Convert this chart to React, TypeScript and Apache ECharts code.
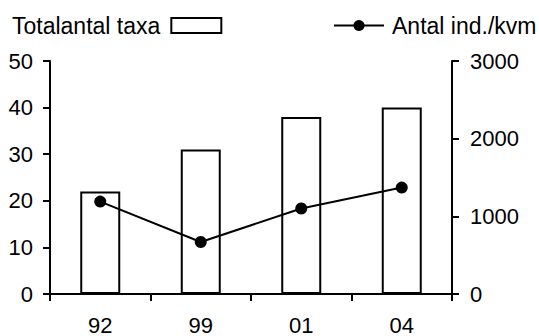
import React, { useEffect, useRef } from "react";
import * as echarts from "echarts";

const categories = ["92", "99", "01", "04"];
const taxaValues = [22, 31, 38, 40];
const densityValues = [1190, 670, 1100, 1370];
const leftTicks = { min: 0, max: 50, interval: 10 };
const rightTicks = { min: 0, max: 3000, interval: 1000 };

const FONT = "'Liberation Sans', Arial, sans-serif";
const FS = 22;

export default function App() {
  const ref = useRef<HTMLDivElement>(null);
  useEffect(() => {
    if (!ref.current) return;
    const chart = echarts.init(ref.current, undefined, { renderer: "svg" });
    const axisLine = { show: true, lineStyle: { color: "#000", width: 2 } };
    const axisTick = { show: true, inside: false, length: 7, lineStyle: { color: "#000", width: 2 } };
    chart.setOption({
      animation: false,
      backgroundColor: "#fff",
      textStyle: { fontFamily: FONT, color: "#000" },
      legend: [
        {
          data: [{ name: "Totalantal taxa", icon: "rect" }],
          left: 12,
          top: 14,
          padding: 0,
          align: "right",
          itemWidth: 50,
          itemHeight: 15,
          itemGap: 0,
          textStyle: { fontSize: FS + 1, color: "#000", fontFamily: FONT, padding: [0, 6, 0, 0] },
        },
        {
          data: ["Antal ind./kvm"],
          left: 333,
          top: 14,
          padding: 0,
          itemWidth: 50,
          itemHeight: 14,
          textStyle: { fontSize: FS + 1, color: "#000", fontFamily: FONT, padding: [0, 0, 0, 3] },
        },
      ],
      grid: { left: 50, right: 87, top: 61, bottom: 41, containLabel: false },
      xAxis: {
        type: "category",
        data: categories,
        boundaryGap: true,
        axisLine,
        axisTick: { ...axisTick, alignWithLabel: false },
        axisLabel: { fontSize: FS, color: "#000", fontFamily: FONT, margin: 20 },
        splitLine: { show: false },
      },
      yAxis: [
        {
          type: "value",
          position: "left",
          ...leftTicks,
          axisLine,
          axisTick,
          axisLabel: { fontSize: FS, color: "#000", fontFamily: FONT, margin: 17 },
          splitLine: { show: false },
        },
        {
          type: "value",
          position: "right",
          ...rightTicks,
          axisLine,
          axisTick,
          axisLabel: {
            fontSize: FS,
            color: "#000",
            fontFamily: FONT,
            margin: 18,
            formatter: (v: number) => String(v),
          },
          splitLine: { show: false },
        },
      ],
      series: [
        {
          name: "Totalantal taxa",
          type: "bar",
          data: taxaValues,
          barWidth: 40,
          itemStyle: { color: "#fff", borderColor: "#000", borderWidth: 2 },
        },
        {
          name: "Antal ind./kvm",
          type: "line",
          yAxisIndex: 1,
          data: densityValues,
          symbol: "circle",
          symbolSize: 12,
          itemStyle: { color: "#000" },
          lineStyle: { color: "#000", width: 2 },
        },
      ],
    });
    return () => chart.dispose();
  }, []);
  return (
    <div
      ref={ref}
      style={{ position: "fixed", left: 0, top: 0, width: 539, height: 336, background: "#fff" }}
    />
  );
}
